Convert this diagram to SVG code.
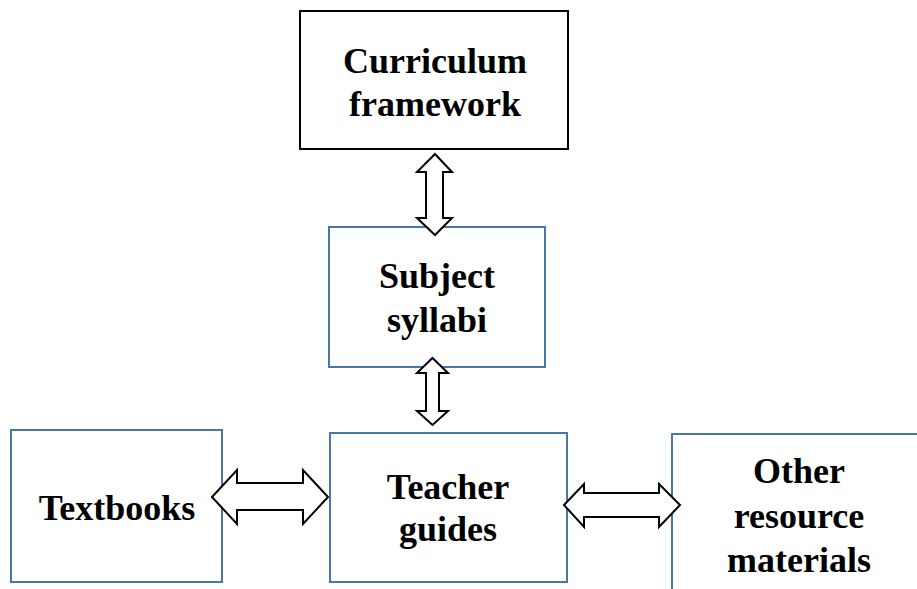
<svg xmlns="http://www.w3.org/2000/svg" width="917" height="589" viewBox="0 0 917 589">
<style>
.box{fill:#fff;stroke:#4a76a8;stroke-width:2}
.blk{fill:#fff;stroke:#000;stroke-width:2}
.t{font-family:"Liberation Serif","Times New Roman",serif;font-weight:bold;font-size:36px;fill:#000;text-anchor:middle}
.arr{fill:#fff;stroke:#000;stroke-width:2;stroke-linejoin:miter}
</style>
<rect width="917" height="589" fill="#fff"/>
<g id="curriculum">
<rect class="blk" x="300" y="11" width="268" height="138"/>
<text class="t" x="435" y="73">Curriculum</text>
<text class="t" x="435" y="116">framework</text>
</g>
<g id="syllabi">
<rect class="box" x="329" y="227" width="216" height="140"/>
<text class="t" x="437" y="288">Subject</text>
<text class="t" x="437" y="332">syllabi</text>
</g>
<g id="teacher">
<rect class="box" x="330" y="433" width="237" height="149"/>
<text class="t" x="448" y="499">Teacher</text>
<text class="t" x="448" y="541">guides</text>
</g>
<g id="textbooks">
<rect class="box" x="11" y="430" width="211" height="152"/>
<text class="t" x="117" y="520">Textbooks</text>
</g>
<g id="other">
<rect class="box" x="672" y="434" width="260" height="170"/>
<text class="t" x="799" y="483">Other</text>
<text class="t" x="799" y="528">resource</text>
<text class="t" x="799" y="572">materials</text>
</g>
<g id="connectors">
<polygon class="arr" points="435,154 452,172 443,172 443,218 452,218 435,235 417,218 426,218 426,172 417,172"/>
<polygon class="arr" points="432.5,358 448,373 439,373 439,411 448,411 432.5,425 417,411 426,411 426,373 417,373"/>
<polygon class="arr" points="212,497 237,470 237,483 303,483 303,470 328,497 303,524 303,510 237,510 237,524"/>
<polygon class="arr" points="564,505 584,484 584,493 659,493 659,484 680,505 659,527 659,517 584,517 584,527"/>
</g>
</svg>
